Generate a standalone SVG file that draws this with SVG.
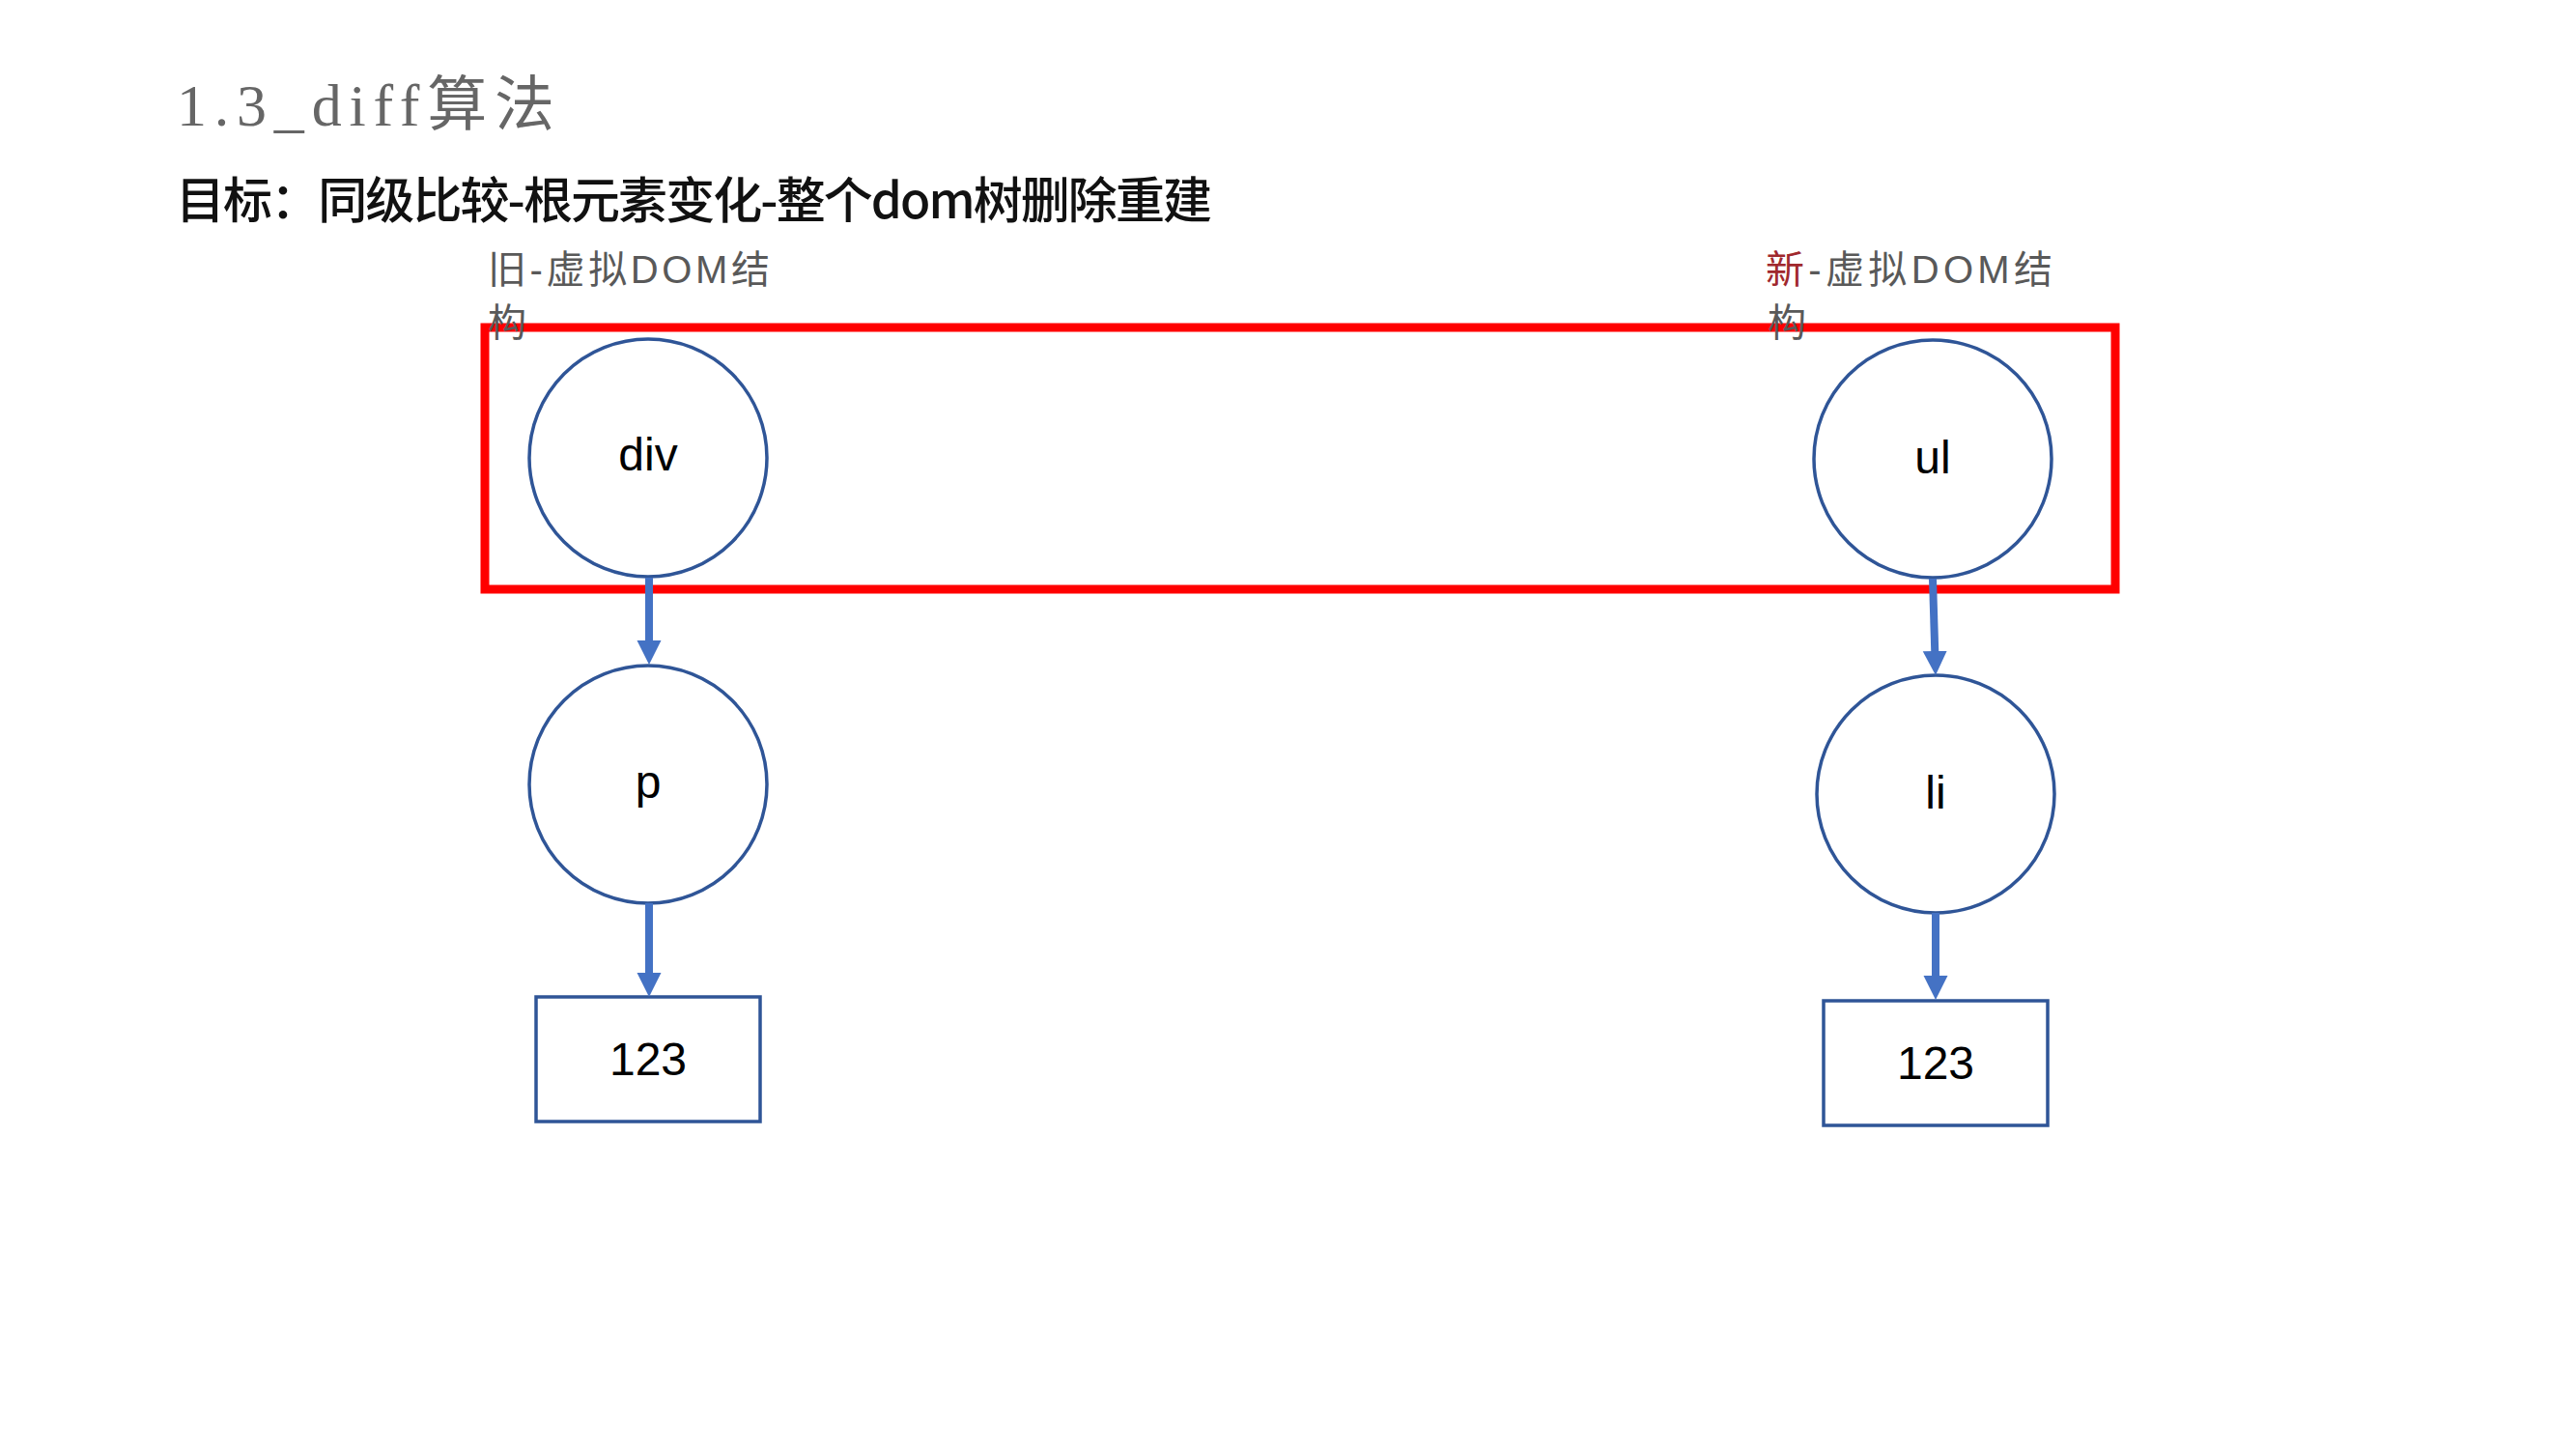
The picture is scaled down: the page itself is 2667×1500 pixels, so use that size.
<svg xmlns="http://www.w3.org/2000/svg" width="2667" height="1500" viewBox="0 0 2667 1500">
<defs>
<style>
.node{fill:#fff;stroke:#2F5597;stroke-width:3.5}
.lbl{font-family:"Liberation Sans","Noto Sans CJK SC",sans-serif;font-size:48px;fill:#000;text-anchor:middle}
.cap{font-family:"Liberation Sans","Noto Sans CJK SC",sans-serif;font-size:40px;fill:#595959}
.conn{stroke:#4472C4;stroke-width:8;fill:none}
</style>
<marker id="ah" markerUnits="userSpaceOnUse" markerWidth="26" markerHeight="26" refX="2" refY="12.5" orient="auto">
<path d="M0,0 L25,12.5 L0,25 z" fill="#4472C4"/>
</marker>
</defs>
<rect width="2667" height="1500" fill="#fff"/>
<g id="title">
<text x="183" y="130" font-family="'Liberation Serif','Noto Sans CJK SC',serif" font-size="62" fill="#666" textLength="391" lengthAdjust="spacing">1.3_diff算法</text>
</g>
<g id="subtitle">
<text x="182" y="226" font-family="'Noto Sans CJK SC',sans-serif" font-size="51" font-weight="500" fill="#111" textLength="1073" lengthAdjust="spacing">目标：同级比较-根元素变化-整个dom树删除重建</text>
</g>
<g id="highlight">
<rect x="502" y="339" width="1688" height="271" fill="none" stroke="#FF0000" stroke-width="9"/>
</g>
<g id="node-div">
<circle class="node" cx="671" cy="474" r="123"/>
<text class="lbl" x="671" y="487">div</text>
</g>
<g id="node-p">
<circle class="node" cx="671" cy="812" r="123"/>
<text class="lbl" x="671" y="826">p</text>
</g>
<g id="node-old-text">
<rect class="node" x="555" y="1032" width="232" height="129"/>
<text class="lbl" x="671" y="1113">123</text>
</g>
<g id="node-ul">
<circle class="node" cx="2001" cy="475" r="123"/>
<text class="lbl" x="2001" y="490">ul</text>
</g>
<g id="node-li">
<circle class="node" cx="2004" cy="822" r="123"/>
<text class="lbl" x="2004" y="837">li</text>
</g>
<g id="node-new-text">
<rect class="node" x="1888" y="1036" width="232" height="129"/>
<text class="lbl" x="2004" y="1117">123</text>
</g>
<g id="connectors">
<line class="conn" x1="672" y1="598" x2="672" y2="665" marker-end="url(#ah)"/>
<line class="conn" x1="672" y1="935" x2="672" y2="1009" marker-end="url(#ah)"/>
<line class="conn" x1="2001" y1="599" x2="2003.3" y2="676" marker-end="url(#ah)"/>
<line class="conn" x1="2004" y1="945" x2="2004" y2="1012" marker-end="url(#ah)"/>
</g>
<g id="label-old">
<text class="cap" x="505" y="293" textLength="292" lengthAdjust="spacing">旧-虚拟DOM结</text>
<text class="cap" x="505" y="348">构</text>
</g>
<g id="label-new">
<text class="cap" x="1828" y="293" textLength="297" lengthAdjust="spacing"><tspan fill="#A0282D">新</tspan>-虚拟DOM结</text>
<text class="cap" x="1830" y="348">构</text>
</g>
</svg>
